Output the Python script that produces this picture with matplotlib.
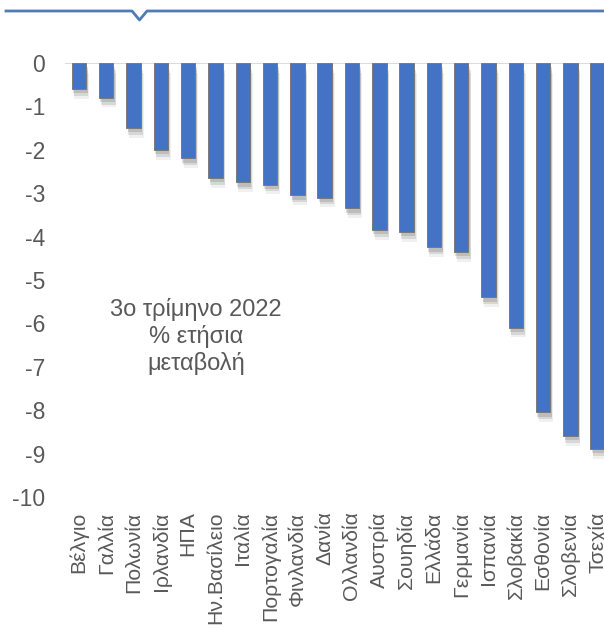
import matplotlib
matplotlib.use("Agg")
import matplotlib.pyplot as plt
import matplotlib.patheffects as pe
from matplotlib.lines import Line2D

countries = ["Βέλγιο", "Γαλλία", "Πολωνία", "Ιρλανδία", "ΗΠΑ", "Ην.Βασίλειο",
             "Ιταλία", "Πορτογαλία", "Φινλανδία", "Δανία", "Ολλανδία", "Αυστρία",
             "Σουηδία", "Ελλάδα", "Γερμανία", "Ισπανία", "Σλοβακία", "Εσθονία",
             "Σλοβενία", "Τσεχία"]
values = [-0.6, -0.8, -1.5, -2.0, -2.2, -2.65, -2.75, -2.8, -3.05, -3.1,
          -3.35, -3.85, -3.9, -4.25, -4.35, -5.4, -6.1, -8.05, -8.6, -8.9]
yticks = [0, -1, -2, -3, -4, -5, -6, -7, -8, -9, -10]
note = "3ο τρίμηνο 2022\n% ετήσια\nμεταβολή"

plt.rcParams['font.family'] = ['Liberation Sans', 'DejaVu Sans']
W, H = 604, 632
fig = plt.figure(figsize=(W / 100, H / 100), dpi=100)
ax = fig.add_axes([65.3 / W, 1 - 497 / H, 1 - 65.3 / W, (497 - 63) / H])

x = list(range(len(countries)))
shadow = [pe.SimplePatchShadow(offset=(1.0, -3.0), shadow_rgbFace='#000000', alpha=0.12),
          pe.SimplePatchShadow(offset=(1.5, -5.0), shadow_rgbFace='#000000', alpha=0.10),
          pe.SimplePatchShadow(offset=(2.0, -7.0), shadow_rgbFace='#000000', alpha=0.06),
          pe.Normal()]
bars = ax.bar(x, values, width=0.53, color='#4472C4', edgecolor='#7a7a7a',
              linewidth=0.7, zorder=3)
for b in bars:
    b.set_path_effects(shadow)

ax.axhline(0, color='#d9d9d9', lw=1.3, zorder=2)
ax.set_xlim(-0.5, 19.23)
ax.set_ylim(-10, 0)
ax.set_yticks(yticks)
ax.set_yticklabels([str(v) for v in yticks])
ax.set_xticks(x)
ax.set_xticklabels(countries, rotation=90)
ax.tick_params(axis='y', length=0, pad=14.5, labelsize=16.5, labelcolor='#595959')
ax.tick_params(axis='x', length=0, pad=10.5, labelsize=15.3, labelcolor='#595959')
for lab in ax.get_yticklabels():
    lab.set_horizontalalignment('right')
for s in ax.spines.values():
    s.set_visible(False)

fig.text(196 / W, 1 - 336.5 / H, note, ha='center', va='center', fontsize=17,
         color='#595959', linespacing=1.24)

pts = [(6, 11), (132, 11), (139.5, 20), (147, 11), (604, 11)]
fig.add_artist(Line2D([p[0] / W for p in pts], [1 - p[1] / H for p in pts],
                      color='#4f7bb6', lw=2, transform=fig.transFigure))

fig.savefig("out.png", dpi=100)
